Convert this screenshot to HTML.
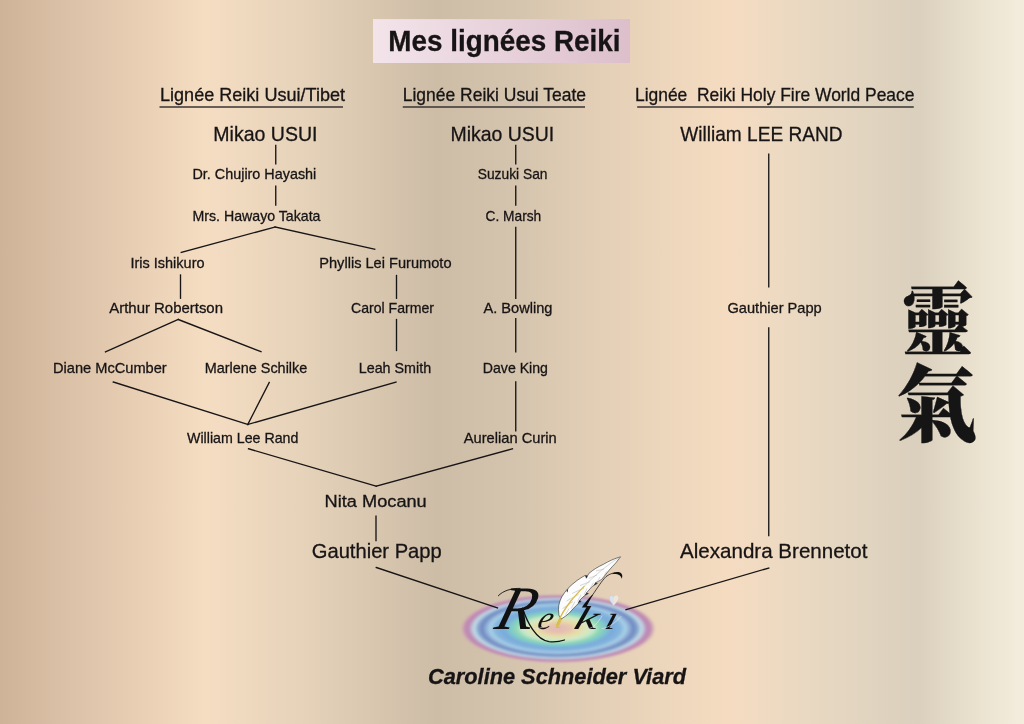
<!DOCTYPE html>
<html lang="fr">
<head>
<meta charset="utf-8">
<title>Mes lignées Reiki</title>
<style>
html,body{margin:0;padding:0;background:#d8c6af;}
body{width:1024px;height:724px;overflow:hidden;}
svg{display:block;will-change:transform;}
text{font-family:"Liberation Sans",sans-serif;fill:#171415;stroke:#171415;stroke-width:0.3px;}
.k{font-family:"Noto Serif CJK SC","Noto Serif CJK JP","Noto Sans CJK SC",serif;font-weight:900;fill:#151515;stroke:#151515;stroke-linejoin:round;}
.s text{stroke:none;font-family:"Liberation Serif",serif;font-style:italic;fill:#111;}
</style>
</head>
<body>
<svg width="1024" height="724" viewBox="0 0 1024 724">
<defs>
<linearGradient id="bg" x1="0" y1="0" x2="1024" y2="0" gradientUnits="userSpaceOnUse">
<stop offset="0" stop-color="#ceb399"/>
<stop offset="0.2" stop-color="#f5ddc2"/>
<stop offset="0.293" stop-color="#e6d3ba"/>
<stop offset="0.427" stop-color="#cdbca6"/>
<stop offset="0.51" stop-color="#d6c5ae"/>
<stop offset="0.59" stop-color="#e4d0b7"/>
<stop offset="0.711" stop-color="#f5dcc1"/>
<stop offset="0.795" stop-color="#e8d8c2"/>
<stop offset="0.897" stop-color="#dad0bd"/>
<stop offset="0.972" stop-color="#efe7d5"/>
<stop offset="1" stop-color="#f4ecdd"/>
</linearGradient>
<linearGradient id="tb" x1="0" y1="0" x2="1" y2="0">
<stop offset="0" stop-color="#f3e4ea"/>
<stop offset="1" stop-color="#dcbfcb"/>
</linearGradient>
<radialGradient id="rb" cx="0.5" cy="0.5" r="0.5">
<stop offset="0" stop-color="#e2b9b6"/>
<stop offset="0.12" stop-color="#e6c2b0"/>
<stop offset="0.22" stop-color="#e8dca6"/>
<stop offset="0.31" stop-color="#d8e8c0"/>
<stop offset="0.37" stop-color="#c0e6cc"/>
<stop offset="0.42" stop-color="#90d8b4"/>
<stop offset="0.485" stop-color="#7fc8cc"/>
<stop offset="0.555" stop-color="#7aaadb"/>
<stop offset="0.64" stop-color="#86b6de"/>
<stop offset="0.69" stop-color="#a9d0e6"/>
<stop offset="0.73" stop-color="#90b0d8"/>
<stop offset="0.773" stop-color="#7189c0"/>
<stop offset="0.815" stop-color="#8ba8d0"/>
<stop offset="0.85" stop-color="#bcdce6"/>
<stop offset="0.88" stop-color="#c2bcd6"/>
<stop offset="0.908" stop-color="#bd8ab4"/>
<stop offset="0.945" stop-color="#c08cb2"/>
<stop offset="0.975" stop-color="#cfa4b4" stop-opacity="0.65"/>
<stop offset="1" stop-color="#d8bcb4" stop-opacity="0"/>
</radialGradient>
<filter id="bl" x="-5%" y="-10%" width="110%" height="120%"><feGaussianBlur stdDeviation="1"/></filter>
</defs>
<rect x="0" y="0" width="1024" height="724" fill="url(#bg)"/>
<rect x="373" y="19.1" width="257" height="43.9" fill="url(#tb)"/>

<g stroke="#181516" stroke-width="1.35" fill="none" stroke-linecap="square">
<line x1="275.75" y1="145.5" x2="275.75" y2="163.75"/>
<line x1="275.75" y1="186.25" x2="275.75" y2="205"/>
<line x1="181.25" y1="252.5" x2="275" y2="227"/>
<line x1="275" y1="227" x2="374.75" y2="249.25"/>
<line x1="180.5" y1="275" x2="180.5" y2="298.25"/>
<line x1="105.5" y1="351.75" x2="178.25" y2="319.5"/>
<line x1="178.25" y1="319.5" x2="261" y2="351.75"/>
<line x1="396.5" y1="275.5" x2="396.5" y2="298.25"/>
<line x1="396.5" y1="319.5" x2="396.5" y2="350.5"/>
<line x1="113.25" y1="382" x2="247.75" y2="424.5"/>
<line x1="269.25" y1="382.5" x2="247.75" y2="424.5"/>
<line x1="396" y1="382" x2="247.75" y2="424.5"/>
<line x1="248.5" y1="448.75" x2="376.25" y2="486.25"/>
<line x1="376.25" y1="486.25" x2="512.5" y2="448.75"/>
<line x1="515.75" y1="145.5" x2="515.75" y2="163.75"/>
<line x1="515.75" y1="186.25" x2="515.75" y2="205"/>
<line x1="515.75" y1="227.5" x2="515.75" y2="298.25"/>
<line x1="515.75" y1="318.75" x2="515.75" y2="351.75"/>
<line x1="515.75" y1="382" x2="515.75" y2="430.75"/>
<line x1="376" y1="516.25" x2="376" y2="540.5"/>
<line x1="768.75" y1="154.25" x2="768.75" y2="286.75"/>
<line x1="768.75" y1="328" x2="768.75" y2="535.6"/>
</g>
<g stroke="#383535" stroke-width="1.5" fill="none">
<line x1="159.5" y1="107" x2="343" y2="107"/>
<line x1="402.75" y1="107" x2="585" y2="107"/>
<line x1="637.2" y1="107" x2="913.75" y2="107"/>
</g>
<ellipse cx="557.8" cy="628.6" rx="98" ry="34.5" fill="url(#rb)" filter="url(#bl)"/>
<g stroke="#181516" stroke-width="1.35" fill="none" stroke-linecap="square"><line x1="376.25" y1="567.5" x2="497.5" y2="608"/><line x1="768.75" y1="568" x2="626" y2="609.7"/></g>
<text x="388.3" y="50.6" font-size="28.8" textLength="232.2" lengthAdjust="spacingAndGlyphs" font-weight="bold" stroke-width="0.55" xml:space="preserve">Mes lignées Reiki</text>
<text x="160" y="101.25" font-size="17.9" textLength="185" lengthAdjust="spacingAndGlyphs" xml:space="preserve">Lignée Reiki Usui/Tibet</text>
<text x="402.75" y="101.25" font-size="17.9" textLength="183.25" lengthAdjust="spacingAndGlyphs" xml:space="preserve">Lignée Reiki Usui Teate</text>
<text x="635" y="101.25" font-size="17.9" textLength="279.4" lengthAdjust="spacingAndGlyphs" xml:space="preserve">Lignée  Reiki Holy Fire World Peace</text>
<text x="213.3" y="140.75" font-size="20.7" textLength="104.2" lengthAdjust="spacingAndGlyphs" xml:space="preserve">Mikao USUI</text>
<text x="450.5" y="140.75" font-size="20.7" textLength="103.75" lengthAdjust="spacingAndGlyphs" xml:space="preserve">Mikao USUI</text>
<text x="680.3" y="141" font-size="20.7" textLength="162.2" lengthAdjust="spacingAndGlyphs" xml:space="preserve">William LEE RAND</text>
<text x="192.5" y="178.75" font-size="15" textLength="123.75" lengthAdjust="spacingAndGlyphs" xml:space="preserve">Dr. Chujiro Hayashi</text>
<text x="477.75" y="178.75" font-size="15" textLength="69.75" lengthAdjust="spacingAndGlyphs" xml:space="preserve">Suzuki San</text>
<text x="192.5" y="220.5" font-size="15" textLength="128" lengthAdjust="spacingAndGlyphs" xml:space="preserve">Mrs. Hawayo Takata</text>
<text x="485.5" y="220.5" font-size="15" textLength="55.75" lengthAdjust="spacingAndGlyphs" xml:space="preserve">C. Marsh</text>
<text x="130.5" y="267.5" font-size="15" textLength="74" lengthAdjust="spacingAndGlyphs" xml:space="preserve">Iris Ishikuro</text>
<text x="319.25" y="267.5" font-size="15" textLength="132.25" lengthAdjust="spacingAndGlyphs" xml:space="preserve">Phyllis Lei Furumoto</text>
<text x="109.25" y="313.25" font-size="15" textLength="113.75" lengthAdjust="spacingAndGlyphs" xml:space="preserve">Arthur Robertson</text>
<text x="351" y="313.25" font-size="15" textLength="83" lengthAdjust="spacingAndGlyphs" xml:space="preserve">Carol Farmer</text>
<text x="483.5" y="313.25" font-size="15" textLength="69" lengthAdjust="spacingAndGlyphs" xml:space="preserve">A. Bowling</text>
<text x="727.5" y="313.25" font-size="15" textLength="94.25" lengthAdjust="spacingAndGlyphs" xml:space="preserve">Gauthier Papp</text>
<text x="53" y="372.5" font-size="15" textLength="113.75" lengthAdjust="spacingAndGlyphs" xml:space="preserve">Diane McCumber</text>
<text x="204.75" y="372.5" font-size="15" textLength="102.5" lengthAdjust="spacingAndGlyphs" xml:space="preserve">Marlene Schilke</text>
<text x="358.75" y="372.5" font-size="15" textLength="72.35" lengthAdjust="spacingAndGlyphs" xml:space="preserve">Leah Smith</text>
<text x="482.75" y="372.5" font-size="15" textLength="65.25" lengthAdjust="spacingAndGlyphs" xml:space="preserve">Dave King</text>
<text x="187" y="443.25" font-size="15" textLength="111.4" lengthAdjust="spacingAndGlyphs" xml:space="preserve">William Lee Rand</text>
<text x="463.75" y="443.25" font-size="15" textLength="93" lengthAdjust="spacingAndGlyphs" xml:space="preserve">Aurelian Curin</text>
<text x="324.6" y="507" font-size="16.9" textLength="102.15" lengthAdjust="spacingAndGlyphs" xml:space="preserve">Nita Mocanu</text>
<text x="311.75" y="558" font-size="20.7" textLength="130" lengthAdjust="spacingAndGlyphs" xml:space="preserve">Gauthier Papp</text>
<text x="680" y="558" font-size="20.7" textLength="187.5" lengthAdjust="spacingAndGlyphs" xml:space="preserve">Alexandra Brennetot</text>
<text x="428" y="683.75" font-size="22.4" textLength="258" lengthAdjust="spacingAndGlyphs" font-weight="bold" stroke-width="0.55" font-style="italic" xml:space="preserve">Caroline Schneider Viard</text>

<g id="logo">
<!-- script word -->
<clipPath id="nd" clipPathUnits="userSpaceOnUse"><rect x="480" y="570" width="118" height="80"/><rect x="598" y="612.5" width="40" height="30"/></clipPath>
<g class="s" clip-path="url(#nd)">
<text transform="translate(492.5,629) skewX(-16)" font-size="33"><tspan x="0.5" y="0" font-size="62">R</tspan><tspan x="43.5" y="0">e</tspan><tspan x="61" y="-1" font-size="31" style="fill:#d9bf55">i</tspan><tspan x="80" y="0" textLength="23.5" lengthAdjust="spacingAndGlyphs">k</tspan><tspan x="110.5" y="0" textLength="12" lengthAdjust="spacingAndGlyphs">i</tspan></text>
</g>
<!-- flourishes -->
<g fill="none" stroke="#111" stroke-linecap="round">
<path d="M498.3 595.8 C503 590.5 512 588.2 520 588.4" stroke-width="0.9"/>
<path d="M522.5 608 C527 622 536 640 549 641.6 C555 642.2 560 641.5 564.5 640" stroke-width="1.3"/>
<path d="M602 628.6 C609 628 616 622 621 616.5" stroke-width="0.6" stroke="#e8e8ee"/>
<path d="M588.5 628.6 C594 628 598 622 602 616" stroke-width="0.6" stroke="#e8e8ee"/>
<path d="M537 628.6 C545 628 551 622 556 616" stroke-width="0.6" stroke="#e8e8ee"/>
</g>
<path d="M581.8 607.4 L586.3 607.4 C588.2 603 590.6 598.6 593.1 595 L592.4 594.5 C588.6 598.4 584.8 603 581.8 607.4 Z" fill="#111"/>
<path d="M592.7 594.8 C597 588.4 602 580.6 606 576.6 C610 573.6 614.6 572.2 618.5 572.6" fill="none" stroke="#111" stroke-width="0.75"/>
<path d="M611.5 574.2 C615.4 571.4 620 571.3 621.7 574 C622.7 575.8 622.3 577.6 621.6 578.7 C621 575.4 618.6 573.6 611.5 574.2 Z" fill="#111"/>
<!-- feather -->
<path d="M561.2 618.7 C559.4 617 558.6 615.4 558.8 613.5 C558.4 610.8 558.4 608 558.8 605.2 C559.4 602.2 560.4 599.6 561.7 597 C563.4 594 565.4 591.4 567.6 588.8 C570.4 585.8 573.6 583 577 580.5 C579.6 578.6 582.4 576.9 585.3 575.3 L586.4 578.2 C587.2 576.4 588 574.8 588.8 573.5 C593.2 569.6 598.4 566.6 603.6 564.2 C609 561 614.8 558.4 620.5 556.8 C619 558.9 617.4 560.9 615.8 562.9 C613.4 565.4 611 568 608.8 570.6 C606.4 573.5 604 576.4 601.7 579.4 C599.6 580.8 597.4 581.9 595.2 582.9 L597.4 583.4 C595.6 584.3 593.9 585.3 592.3 586.4 C590.4 588.6 588.4 590.8 586.4 592.9 L588.4 593.6 C586.4 594.6 584.6 595.7 582.9 597 L579.4 600.5 L581.2 601.3 C579.1 602.9 577.2 604.6 575.3 606.4 C573.2 608.8 571 611.2 568.8 613.5 C566.6 615.4 564.2 617.1 561.8 618.7 Z" fill="#fcfcfc" stroke="#2c2c2c" stroke-width="0.6" stroke-linejoin="round"/>
<g fill="none" stroke="#a8a8a8" stroke-width="0.45">
<path d="M620.5 556.8 C607 565 594 576 584.1 586.4"/>
<path d="M604 569 L596 571 M597 575 L588.8 578.4 M590 581.6 L580 585.6 M584 588 L572 593.5 M578.6 594.4 L566.5 601 M573 601.5 L562.6 608.6"/>
<path d="M606.5 571.5 L604.6 574.8 M600 577 L597.6 581.6 M593.5 582.6 L590.5 587.6 M587 588.6 L584 594.6 M581 594.8 L577.6 601.4 M575 601.6 L571.2 608.6 M569 608.6 L565.6 614.6"/>
</g>
<g fill="#222" stroke="none">
<path d="M566.5 591.1 L568.4 587.9 L567.4 592.4 Z"/>
<path d="M585.3 575.3 L586.4 578.2 L587.6 575.6 Z"/>
<path d="M595.2 582.9 L597.4 583.4 L593.4 585.4 Z"/>
<path d="M586.4 592.9 L588.4 593.6 L584.2 595.8 Z"/>
<path d="M579.4 600.5 L581.2 601.3 L577.4 603.6 Z"/>
</g>
<path d="M584.1 586.4 C579 591.6 574.5 596.5 570.5 601.5 C564.6 609 560 617 556.5 625.2" fill="none" stroke="#d8bc4e" stroke-width="1.3" stroke-linecap="round"/>
<!-- heart -->
<path d="M613.6 605.4 C610.8 602 608.8 599.6 609.4 597.2 C610 595 612.7 594.8 613.7 597.2 C614.8 594.8 617.8 595 618.4 597.2 C618.9 599.6 616.6 602 613.6 605.4 Z" fill="#d9e3ee" stroke="#c4c6d2" stroke-width="0.5"/>
<path d="M613.7 597.2 C614.8 594.8 617.8 595 618.4 597.2 C618.9 599.6 616.6 602 613.6 605.4 Z" fill="#efe6d6"/>
</g>

<text class="k" transform="translate(902.1,348.8) scale(1,1.109)" font-size="71.4" stroke-width="1.8" textLength="71.4" lengthAdjust="spacingAndGlyphs">靈</text>
<text class="k" transform="translate(896.85,435.1) scale(1,1.051)" font-size="80.1" stroke-width="1.8" textLength="80.1" lengthAdjust="spacingAndGlyphs">氣</text>
</svg>
</body>
</html>
